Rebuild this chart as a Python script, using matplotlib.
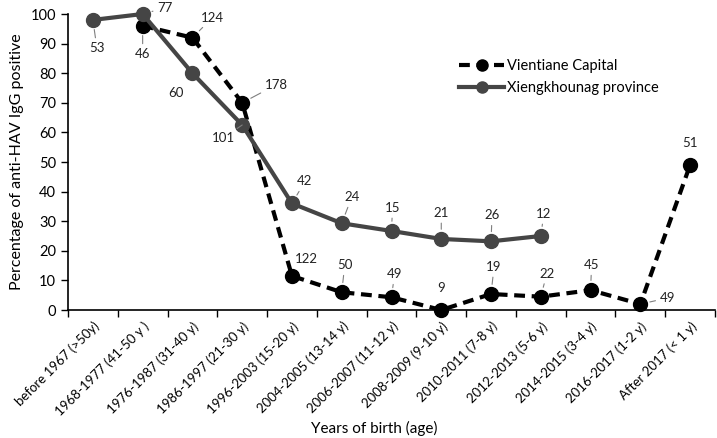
import numpy as np
import matplotlib.pyplot as plt

plt.rcParams['font.family'] = ['Lato', 'DejaVu Sans']

# categories (years of birth / age)
categories = ['before 1967 (>50y)', '1968-1977 (41-50 y )', '1976-1987 (31-40 y)',
              '1986-1997 (21-30 y)', '1996-2003 (15-20 y)', '2004-2005 (13-14 y)',
              '2006-2007 (11-12 y)', '2008-2009 (9-10 y)', '2010-2011 (7-8 y)',
              '2012-2013 (5-6 y)', '2014-2015 (3-4 y)', '2016-2017 (1-2 y)',
              'After 2017 (< 1 y)']

# percentage anti-HAV IgG positive
vientiane = [np.nan, 96, 92, 70, 11.5, 6, 4.3, 0, 5.4, 4.5, 6.7, 2, 49]
xieng = [98, 100, 80, 62.5, 36, 29.3, 26.7, 24, 23.2, 25, np.nan, np.nan, np.nan]

# sample sizes (data labels)
vientiane_n = [None, 46, 124, 178, 122, 50, 49, 9, 19, 22, 45, 49, 51]
xieng_n = [53, 77, 60, 101, 42, 24, 15, 21, 26, 12, None, None, None]

# label placement (pixels) and whether a leader line is drawn
vientiane_off = [None, (0, -28), (20, 20), (34, 18), (14, 17), (3, 27), (3, 23),
                 (0, 22), (3, 27), (6, 23), (1, 25), (27, 6), (0, 22)]
vientiane_lead = [False, True, True, True, False, True, True, False, True, True, True, True, False]
xieng_off = [(4, -28), (22, 6), (-16, -20), (-19, -13), (13, 22), (10, 26),
             (1, 23), (0, 26), (1, 26), (3, 22), None, None, None]
xieng_lead = [True, True, False, True, True, True, True, True, True, True, False, False, False]

fig = plt.figure(figsize=(7.17, 4.38), dpi=100)
ax = fig.add_axes([68 / 717, 1 - 310 / 438, (715 - 68) / 717, (310 - 14) / 438])

x = np.arange(len(categories))
dark = '#454545'

ax.plot(x, vientiane, color='black', lw=3, linestyle=(0, (2.6, 1.6)), marker='o',
        markersize=10, label='Vientiane Capital', clip_on=False, zorder=3)
ax.plot(x, xieng, color=dark, lw=3, marker='o', markersize=10,
        label='Xiengkhounag province', clip_on=False, zorder=4)


def add_labels(vals, ns, offs, leads):
    for i, (v, n, o, l) in enumerate(zip(vals, ns, offs, leads)):
        if n is None:
            continue
        props = None
        if l:
            props = dict(arrowstyle='-', color='#7f7f7f', lw=0.8, shrinkA=1, shrinkB=7)
        ax.annotate(str(n), xy=(i, v), xytext=o, textcoords='offset pixels',
                    ha='center', va='center', fontsize=9.5, color='#222222',
                    arrowprops=props, zorder=5)


add_labels(vientiane, vientiane_n, vientiane_off, vientiane_lead)
add_labels(xieng, xieng_n, xieng_off, xieng_lead)

ax.set_xlim(-0.5, len(categories) - 0.5)
ax.set_ylim(0, 100)
ax.set_yticks(range(0, 101, 10))
ax.set_xticks(x)
ax.set_xticklabels(categories, rotation=45, ha='right', rotation_mode='anchor', fontsize=9.5)
ax.set_xticks(np.arange(-0.5, len(categories), 1), minor=True)
ax.tick_params(axis='x', which='major', length=0, pad=7)
ax.tick_params(axis='x', which='minor', length=5, width=1, direction='out')
ax.tick_params(axis='y', labelsize=10.5, length=5, width=1, direction='out')

for s in ['top', 'right']:
    ax.spines[s].set_visible(False)
for s in ['left', 'bottom']:
    ax.spines[s].set_linewidth(1.2)

ax.set_ylabel('Percentage of anti-HAV IgG positive', fontsize=11.5, labelpad=5)
ax.set_xlabel('Years of birth (age)', fontsize=11, va='center')
ax.xaxis.set_label_coords((374 - 68) / 647, -(428 - 310) / 296)

fig.legend(loc='upper left', bbox_to_anchor=(446 / 717, 1 - 46 / 438), frameon=False,
           fontsize=10.5, handlelength=3.1, handletextpad=0.15, labelspacing=0.55,
           markerscale=0.8)

fig.savefig('out.png', dpi=100)
